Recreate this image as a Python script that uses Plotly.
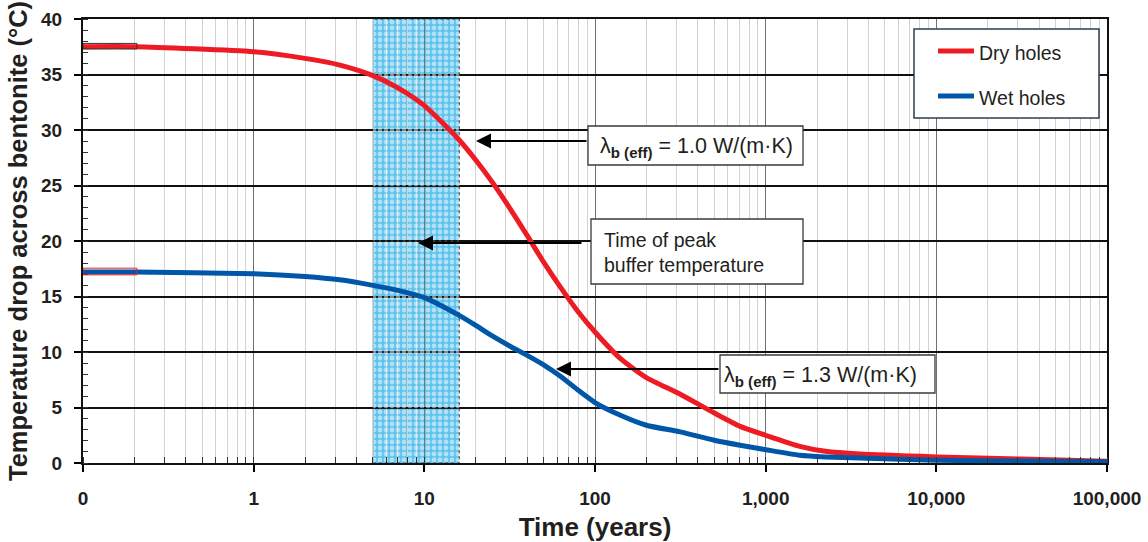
import math
import plotly.graph_objects as go

# ---------------- data ----------------
years = [0.1, 0.2, 1, 2, 3.2, 5, 7, 10, 16, 20, 25, 32, 40, 50, 63, 79, 100, 141, 200, 316, 500, 708,
         1000, 1585, 2239, 3548, 10000, 31623, 100000]
dry_drop = [37.5, 37.5, 37.05, 36.45, 35.85, 34.9, 33.8, 32.2, 29.1, 27.3, 25.3, 22.85, 20.5, 18.1, 15.8,
            13.7, 11.8, 9.4, 7.7, 6.2, 4.5, 3.3, 2.5, 1.5, 1.05, 0.8, 0.55, 0.35, 0.15]
wet_drop = [17.2, 17.2, 17.05, 16.8, 16.5, 16.0, 15.55, 14.9, 13.3, 12.4, 11.45, 10.5, 9.7, 8.85, 7.8,
            6.6, 5.45, 4.3, 3.4, 2.8, 2.05, 1.6, 1.2, 0.7, 0.55, 0.45, 0.25, 0.17, 0.12]

peak_period = [5, 16]  # years, time of peak buffer temperature

x_tickvals = [0.1, 1, 10, 100, 1000, 10000, 100000]
x_ticktext = ["0", "1", "10", "100", "1,000", "10,000", "100,000"]

series_names = ["Dry holes", "Wet holes"]
label_dry = "λ<sub><b>b (eff)</b></sub> = 1.0 W/(m·K)"
label_wet = "λ<sub><b>b (eff)</b></sub> = 1.3 W/(m·K)"
label_peak = "Time of peak<br>buffer temperature"

# ---------------- style ----------------
RED = "#ED1C24"
BLUE = "#0057A8"
BAND = "#5EC3EE"
TXT = "#231f20"
FONT = "Liberation Sans, Arial, sans-serif"

W, H = 1148, 542
L, R, T, B = 83, 1107, 19, 463


def px(xp):
    return (xp - L) / (R - L)


def py(yp):
    return (B - yp) / (B - T)


fig = go.Figure()

# pattern overlay of the peak-temperature band
fig.add_trace(go.Scatter(
    x=[peak_period[0], peak_period[1], peak_period[1], peak_period[0], peak_period[0]],
    y=[0, 0, 40, 40, 0],
    mode="lines", line=dict(width=0), fill="toself",
    fillcolor="rgba(0,0,0,0)",
    fillpattern=dict(shape=".", fgcolor="white", bgcolor="rgba(0,0,0,0)", size=6, solidity=0.5),
    showlegend=False, hoverinfo="skip"))

fig.add_trace(go.Scatter(x=years, y=dry_drop, mode="lines", name=series_names[0],
                         line=dict(color=RED, width=5, shape="spline", smoothing=0.6), showlegend=False))
fig.add_trace(go.Scatter(x=years, y=wet_drop, mode="lines", name=series_names[1],
                         line=dict(color=BLUE, width=5, shape="spline", smoothing=0.6), showlegend=False))

shapes = []
# band (below gridlines)
shapes.append(dict(type="rect", xref="x", yref="y", x0=peak_period[0], x1=peak_period[1], y0=0, y1=40,
                   fillcolor=BAND, line=dict(color="#333", width=1.2, dash="dot"), layer="below"))
# small start markers
shapes.append(dict(type="rect", xref="x", yref="y", x0=0.1, x1=0.207, y0=37.3, y1=37.8,
                   fillcolor="rgba(0,0,0,0)", line=dict(color="#333", width=1), layer="above"))
shapes.append(dict(type="rect", xref="x", yref="y", x0=0.1, x1=0.207, y0=16.95, y1=17.55,
                   fillcolor="rgba(0,0,0,0)", line=dict(color=RED, width=1), layer="above"))

# text boxes
for (x0, y0, x1, y1) in [(588, 126, 803, 165), (591, 219, 803, 284), (720, 355, 935, 393)]:
    shapes.append(dict(type="rect", xref="paper", yref="paper", x0=px(x0), x1=px(x1), y0=py(y1), y1=py(y0),
                       fillcolor="white", line=dict(color="#3a3a3a", width=1.3), layer="above"))
# legend box and samples
shapes.append(dict(type="rect", xref="paper", yref="paper", x0=px(914), x1=px(1099), y0=py(118), y1=py(29),
                   fillcolor="white", line=dict(color="#2c3e50", width=1.5), layer="above"))
shapes.append(dict(type="line", xref="paper", yref="paper", x0=px(938), x1=px(974), y0=py(51), y1=py(51),
                   line=dict(color=RED, width=5), layer="above"))
shapes.append(dict(type="line", xref="paper", yref="paper", x0=px(938), x1=px(974), y0=py(96), y1=py(96),
                   line=dict(color=BLUE, width=5), layer="above"))

annotations = []
# arrows: tip position, tail offset in pixels
for (tipx, tipy, tailx) in [(476, 141, 588), (418, 243, 583), (556, 369, 720)]:
    annotations.append(dict(xref="paper", yref="paper", x=px(tipx), y=py(tipy), text="",
                            showarrow=True, ax=tailx - tipx, ay=0, axref="pixel", ayref="pixel",
                            arrowhead=2, arrowsize=1.5, arrowwidth=2, arrowcolor="black", standoff=0))

textfont = dict(family=FONT, size=21.5, color=TXT)
annotations.append(dict(xref="paper", yref="paper", x=px(598), y=py(147), xanchor="left", yanchor="middle",
                        text=label_dry, showarrow=False, font=textfont, align="left"))
annotations.append(dict(xref="paper", yref="paper", x=px(602), y=py(253), xanchor="left", yanchor="middle",
                        text=label_peak, showarrow=False, font=dict(family=FONT, size=19.5, color=TXT),
                        align="left"))
annotations.append(dict(xref="paper", yref="paper", x=px(722), y=py(376), xanchor="left", yanchor="middle",
                        text=label_wet, showarrow=False, font=textfont, align="left"))
# legend labels
for name, yy in zip(series_names, [53, 98]):
    annotations.append(dict(xref="paper", yref="paper", x=px(977), y=py(yy), xanchor="left", yanchor="middle",
                            text=name, showarrow=False, font=dict(family=FONT, size=19.5, color=TXT)))

tickfont = dict(family=FONT, size=19, color=TXT, weight="bold")

fig.update_layout(
    width=W, height=H, autosize=False,
    margin=dict(l=L, r=W - R, t=T, b=H - B),
    paper_bgcolor="white", plot_bgcolor="rgba(0,0,0,0)",
    shapes=shapes, annotations=annotations, showlegend=False,
    xaxis=dict(
        type="log", range=[-1, 5], automargin=False,
        tickmode="array", tickvals=x_tickvals, ticktext=x_ticktext,
        ticks="outside", ticklen=7, tickwidth=1.5, tickcolor="black",
        showgrid=True, gridcolor="#707070", gridwidth=1.3,
        minor=dict(dtick="D1", ticks="inside", ticklen=6, tickwidth=1, tickcolor="#333",
                   showgrid=True, gridcolor="#d2d2d2", gridwidth=1.2),
        showline=True, linecolor="#111", linewidth=2, mirror=True, zeroline=False,
        tickfont=tickfont, ticklabelstandoff=10,
        title=dict(text="Time (years)", font=dict(family=FONT, size=26, color=TXT, weight="bold"),
                   standoff=12),
    ),
    yaxis=dict(
        range=[0, 40], tickmode="linear", tick0=0, dtick=5, automargin=False,
        ticks="outside", ticklen=7, tickwidth=1.5, tickcolor="black",
        showgrid=True, gridcolor="#111", gridwidth=1.5,
        minor=dict(dtick=1, ticks="inside", ticklen=5, tickwidth=1, tickcolor="#333", showgrid=False),
        showline=True, linecolor="#111", linewidth=2, mirror=True, zeroline=False,
        tickfont=tickfont, ticklabelstandoff=8,
        title=dict(text="Temperature drop across bentonite (°C)",
                   font=dict(family=FONT, size=25.5, color=TXT, weight="bold"), standoff=6),
    ),
)

fig.write_html("out.html")
